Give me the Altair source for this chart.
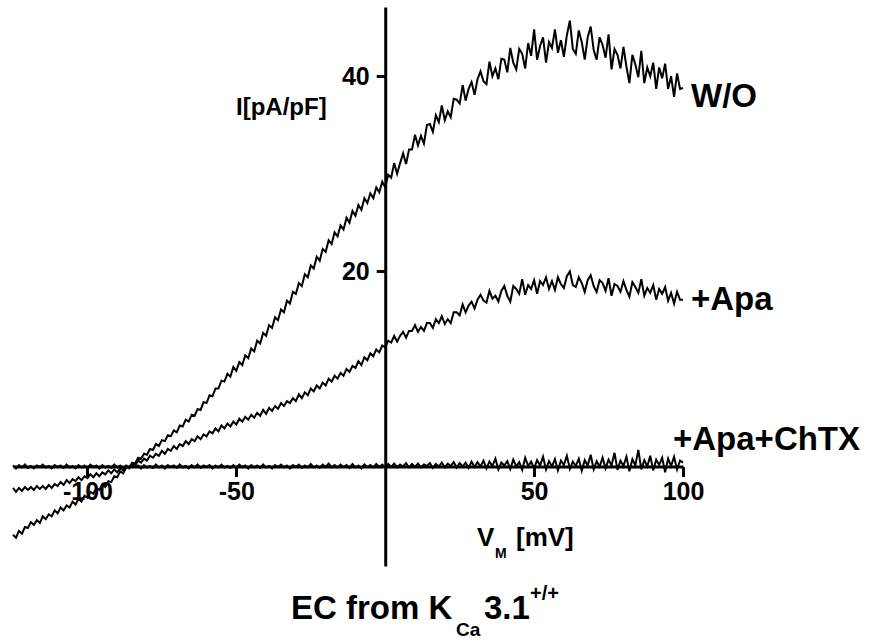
import altair as alt
import pandas as pd

# membrane voltage ramp (mV), 1 mV steps
V_M = list(range(-125, 101))

# current density (pA/pF)
I_WO = [
    -7.0, -7.3, -6.6, -6.9, -6.2, -6.3, -5.7, -6.0, -5.5, -5.8,
    -5.1, -5.4, -4.9, -5.1, -4.5, -4.8, -4.2, -4.5, -4.0, -4.2,
    -3.6, -3.9, -3.3, -3.6, -3.0, -3.2, -2.6, -2.8, -2.2, -2.4,
    -1.8, -2.1, -1.5, -1.6, -1.0, -1.1, -0.5, -0.7, -0.1, -0.1,
    0.4, 0.3, 0.9, 0.8, 1.3, 1.2, 1.8, 1.7, 2.3, 2.1,
    2.7, 2.6, 3.2, 3.1, 3.7, 3.5, 4.2, 4.1, 4.8, 4.6,
    5.3, 5.2, 5.9, 5.8, 6.6, 6.5, 7.3, 7.2, 8.0, 8.0,
    8.8, 8.7, 9.5, 9.2, 10.2, 9.8, 10.7, 10.4, 11.4, 11.1,
    12.1, 11.8, 12.9, 12.6, 13.7, 13.4, 14.5, 14.2, 15.3, 15.0,
    16.1, 15.8, 17.0, 16.7, 17.9, 17.7, 18.8, 18.5, 19.7, 19.4,
    20.6, 20.3, 21.5, 21.1, 22.3, 22.0, 23.2, 22.8, 24.0, 23.6,
    24.7, 24.3, 25.5, 25.0, 26.2, 25.7, 26.8, 26.3, 27.5, 27.0,
    28.0, 27.5, 28.6, 28.1, 29.2,
    28.6, 29.9, 29.6, 31.1, 30.0, 31.1, 32.1, 31.0, 32.5, 32.5,
    34.0, 32.9, 33.9, 33.1, 35.0, 35.1, 34.3, 36.0, 35.3, 37.0,
    35.5, 36.4, 35.8, 37.7, 37.6, 37.2, 39.1, 37.5, 38.7, 39.4,
    38.1, 39.7, 40.5, 39.5, 39.2, 41.5, 40.0, 40.8, 39.7, 41.8,
    41.7, 40.4, 42.9, 41.4, 40.7, 42.8, 42.3, 40.8, 43.4, 42.1,
    44.8, 41.7, 43.1, 44.0, 41.4, 43.5, 42.9, 44.8, 42.4, 43.7,
    42.0, 44.2, 45.7, 42.8, 42.3, 44.7, 43.5, 41.7, 44.0, 45.1,
    42.7, 41.7, 44.0, 43.2, 41.9, 44.3, 40.7, 42.8, 42.2, 40.8,
    43.0, 41.0, 39.3, 42.2, 41.2, 39.9, 42.6, 39.3, 40.9, 40.0,
    41.4, 38.7, 40.9, 39.8, 41.3, 38.7, 40.0, 37.9, 40.3, 38.7,
    38.8,
]

I_APA = [
    -2.2, -2.6, -2.2, -2.5, -2.1, -2.4, -2.1, -2.4, -2.0, -2.3,
    -2.0, -2.3, -1.9, -2.2, -1.8, -2.0, -1.6, -1.9, -1.4, -1.7,
    -1.3, -1.5, -1.1, -1.4, -1.0, -1.2, -0.8, -1.1, -0.7, -1.0,
    -0.6, -0.8, -0.4, -0.7, -0.3, -0.6, -0.2, -0.4, 0.1, -0.2,
    0.3, 0.1, 0.6, 0.4, 0.8, 0.6, 1.1, 0.9, 1.3, 1.1,
    1.6, 1.3, 1.8, 1.6, 2.1, 1.8, 2.3, 2.1, 2.6, 2.3,
    2.8, 2.6, 3.1, 2.8, 3.3, 3.1, 3.6, 3.4, 3.9, 3.6,
    4.2, 3.9, 4.4, 4.1, 4.6, 4.3, 4.9, 4.6, 5.1, 4.8,
    5.3, 5.0, 5.5, 5.2, 5.8, 5.4, 6.0, 5.7, 6.2, 5.9,
    6.5, 6.2, 6.7, 6.5, 7.0, 6.7, 7.4, 7.0, 7.6, 7.3,
    8.0, 7.7, 8.3, 8.0, 8.6, 8.3, 9.0, 8.7, 9.3, 9.0,
    9.6, 9.3, 10.0, 9.7, 10.3, 10.1, 10.8, 10.4, 11.2, 10.9,
    11.6, 11.3, 12.0, 11.7, 12.4,
    12.2, 12.9, 12.7, 13.4, 12.8, 13.4, 13.8, 13.2, 13.9, 13.9,
    14.5, 13.8, 14.3, 13.9, 14.7, 14.7, 14.2, 15.1, 14.7, 15.4,
    14.6, 15.1, 14.7, 15.8, 15.8, 15.5, 16.6, 15.8, 16.5, 16.9,
    16.2, 17.1, 17.6, 17.0, 16.8, 18.0, 17.2, 17.5, 16.9, 18.0,
    18.5, 17.5, 16.9, 18.5, 18.2, 17.7, 19.2, 17.6, 18.6, 18.2,
    19.1, 17.7, 19.0, 18.6, 19.4, 18.2, 19.0, 18.1, 19.4, 18.7,
    18.3, 19.5, 20.0, 18.6, 18.4, 19.4, 18.8, 17.9, 19.1, 19.6,
    18.5, 17.9, 19.1, 18.8, 18.0, 19.3, 17.5, 18.7, 18.5, 17.9,
    19.0, 18.1, 17.4, 18.9, 18.4, 17.8, 19.2, 17.5, 18.3, 17.8,
    18.6, 17.1, 18.2, 17.7, 18.4, 17.0, 17.8, 16.7, 17.9, 17.1,
    17.1,
]

I_APA_CHTX = [
    0.1, -0.2, 0.15, -0.1, 0.2, -0.15, 0.05, -0.2, 0.1, -0.05,
    0.2, -0.1, 0.05, -0.2, 0.15, -0.05, 0.1, -0.15, 0.2, -0.1,
    0.05, -0.2, 0.15, -0.1, 0.1, -0.15, 0.2, -0.05, 0.1, -0.2,
    0.15, -0.1, 0.05, -0.15, 0.2, -0.1, 0.1, -0.2, 0.05, -0.1,
    0.2, -0.05, 0.1, -0.2, 0.15, -0.1, 0.05, -0.15, 0.2, -0.1,
    0.1, -0.2, 0.15, -0.05, 0.1, -0.15, 0.2, -0.1, 0.05, -0.2,
    0.15, -0.1, 0.2, -0.15, 0.1, -0.05, 0.15, -0.2, 0.1, -0.1,
    0.2, -0.1, 0.05, -0.15, 0.15, -0.1, 0.2, -0.05, 0.1, -0.2,
    0.15, -0.1, 0.1, -0.15, 0.2, -0.1, 0.05, -0.2, 0.15, -0.05,
    0.2, -0.1, 0.1, -0.2, 0.15, -0.05, 0.2, -0.15, 0.1, -0.1,
    0.25, -0.1, 0.1, -0.15, 0.2, -0.05, 0.3, -0.1, 0.15, -0.1,
    0.2, -0.05, 0.15, -0.15, 0.25, -0.1, 0.1, -0.2, 0.2, -0.05,
    0.15, -0.1, 0.25, -0.05, 0.2,
    -0.1, 0.25, -0.05, 0.3, -0.1, 0.2, 0.0, 0.35, -0.1, 0.25,
    -0.05, 0.3, -0.1, 0.2, 0.05, 0.35, -0.15, 0.25, 0.0, 0.4,
    -0.1, 0.3, 0.05, 0.45, -0.1, 0.35, 0.0, 0.4, -0.15, 0.5,
    -0.05, 0.45, 0.0, 0.6, -0.2, 0.5, 0.05, 0.8, -0.3, 0.4,
    0.1, 0.55, -0.25, 0.7, 0.0, 0.45, -0.35, 0.9, 0.05, 0.5,
    -0.2, 0.65, 0.1, 1.0, -0.3, 0.55, 0.0, 0.75, -0.4, 0.6,
    0.15, 1.1, -0.25, 0.5, 0.05, 0.8, -0.45, 0.65, 0.1, 1.2,
    -0.3, 0.55, 0.0, 0.9, -0.2, 0.7, 0.1, 1.4, -0.35, 0.6,
    0.05, 1.0, -0.5, 0.75, 0.1, 1.7, -0.3, 0.65, 0.0, 1.1,
    -0.4, 0.7, 0.15, 0.9, -0.6, 0.8, 0.05, 1.0, -0.3, 0.6,
    0.4,
]

SERIES = ["W/O", "+Apa", "+Apa+ChTX"]
X_TICKS = [-100, -50, 50, 100]
Y_TICKS = [20, 40]
X_DOMAIN = [-125, 100]
Y_DOMAIN = [-10.2, 47.1]

rows = []
for name, vals in zip(SERIES, [I_WO, I_APA, I_APA_CHTX]):
    for v, i in zip(V_M, vals):
        rows.append({"V": v, "I": i, "series": name})
df = pd.DataFrame(rows)

W, H = 670, 559
PAD_L, PAD_T = 13, 7
FONT = "Liberation Sans"

# axes cross at the origin
x_off = -H * (0 - Y_DOMAIN[0]) / (Y_DOMAIN[1] - Y_DOMAIN[0])
y_off = -W * (0 - X_DOMAIN[0]) / (X_DOMAIN[1] - X_DOMAIN[0])

axis_common = dict(
    title=None, grid=False, domainColor="black", tickColor="black",
    labelColor="black", domainWidth=3, tickWidth=3, labelFont=FONT,
    labelFontSize=25, labelFontWeight="bold", labelFlush=False,
    labelExpr="'' + datum.value",
)

lines = alt.Chart(df).mark_line(color="black", strokeWidth=2.0).encode(
    x=alt.X("V:Q", scale=alt.Scale(domain=X_DOMAIN, nice=False, zero=False),
            axis=alt.Axis(values=X_TICKS, offset=x_off, tickSize=10,
                          labelPadding=3, **axis_common)),
    y=alt.Y("I:Q", scale=alt.Scale(domain=Y_DOMAIN, nice=False, zero=False),
            axis=alt.Axis(values=Y_TICKS, offset=y_off, tickSize=9,
                          labelPadding=7, **axis_common)),
    detail="series:N",
)

one = pd.DataFrame({"k": [0]})


def label(text, px, py, size):
    return alt.Chart(one).mark_text(
        text=text, font=FONT, fontWeight="bold", fontSize=size,
        align="left", baseline="alphabetic", color="black",
    ).encode(x=alt.value(px - PAD_L), y=alt.value(py - PAD_T))


texts = [
    label("I[pA/pF]", 236, 115, 24),
    label("V", 477, 546, 26),
    label("M", 495, 558, 14),
    label("[mV]", 516, 546, 26),
    label("EC from K", 291, 619, 33),
    label("Ca", 456, 636, 19),
    label("3.1", 484, 619, 33),
    label("+/+", 530, 600, 20),
    label(SERIES[0], 691, 107, 33),
    label(SERIES[1], 691, 310, 33),
    label(SERIES[2], 673, 450, 33),
]

chart = alt.layer(lines, *texts).properties(
    width=W, height=H,
    autosize=alt.AutoSizeParams(type="none"),
    padding={"left": PAD_L, "top": PAD_T, "right": 874 - PAD_L - W,
             "bottom": 641 - PAD_T - H},
    background="white",
).configure_view(stroke=None, strokeWidth=0)

chart.save("out.html", embed_options={"renderer": "svg", "actions": False})
